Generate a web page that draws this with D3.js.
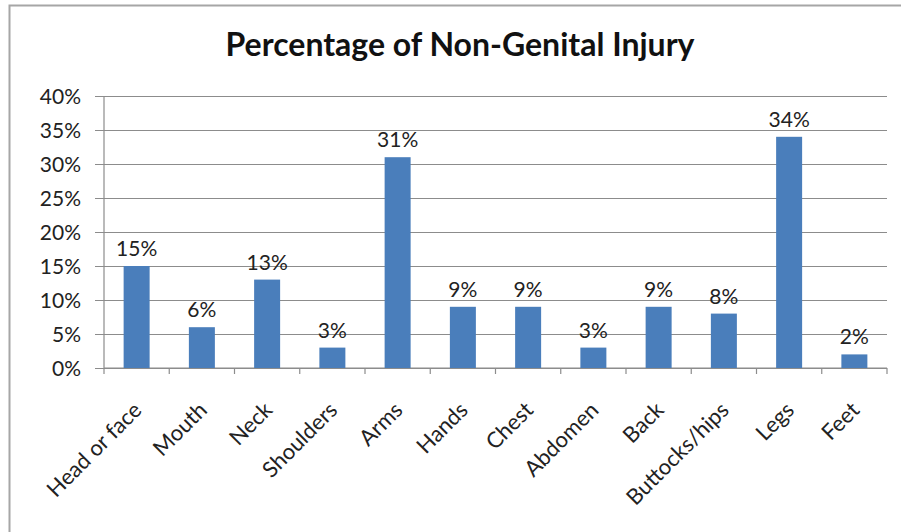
<!DOCTYPE html>
<html><head><meta charset="utf-8">
<script src="https://cdn.jsdelivr.net/npm/d3@7"></script>
<style>body{margin:0;background:#fff}svg{display:block}</style>
</head><body>
<svg id="c" width="901" height="532"></svg>
<script>
const categories = ["Head or face","Mouth","Neck","Shoulders","Arms","Hands","Chest","Abdomen","Back","Buttocks/hips","Legs","Feet"];
const values = [15,6,13,3,31,9,9,3,9,8,34,2];
const yTicks = [0,5,10,15,20,25,30,35,40];
const title = "Percentage of Non-Genital Injury";

const svg = d3.select("#c");
const font = "Lato, 'Open Sans', sans-serif";
const m = {l:104, r:887, t:96, b:368};

svg.append("rect").attr("x",9.5).attr("y",5.5).attr("width",910).attr("height",560)
  .attr("fill","#fff").attr("stroke","#a6a6a6").attr("stroke-width",2);

const y = d3.scaleLinear().domain([0,40]).range([m.b,m.t]);

// gridlines + y axis
const yAxis = d3.axisLeft(y).tickValues(yTicks).tickFormat(d=>d+"%").tickSize(-(m.r-m.l)).tickPadding(14);
const gy = svg.append("g").attr("transform",`translate(${m.l},0)`).call(yAxis);
gy.select(".domain").remove();
gy.selectAll(".tick line").attr("stroke","#8c8c8c").attr("stroke-width",1.2).attr("x1",-9);
gy.selectAll(".tick text").attr("font-family",font).attr("font-size",21).attr("fill","#222").attr("x",-23).attr("dy","0.36em");

// axis lines
svg.append("line").attr("x1",m.l).attr("x2",m.l).attr("y1",m.t).attr("y2",m.b).attr("stroke","#8c8c8c").attr("stroke-width",1.2);
svg.append("line").attr("x1",m.l).attr("x2",m.r).attr("y1",m.b).attr("y2",m.b).attr("stroke","#8c8c8c").attr("stroke-width",1.2);
const x = d3.scaleBand().domain(categories).range([m.l,m.r]).padding(0);
const bw = x.bandwidth();
const boundaries = categories.map(c=>x(c)).concat([m.r]);
svg.selectAll("line.xt").data(boundaries).enter().append("line").attr("class","xt")
  .attr("x1",d=>d).attr("x2",d=>d).attr("y1",m.b).attr("y2",m.b+6).attr("stroke","#8c8c8c").attr("stroke-width",1.2);

// bars
const barW = 26;
const cx = (d,i)=> x(categories[i]) + bw/2;
svg.selectAll("rect.bar").data(values).enter().append("rect").attr("class","bar")
  .attr("x",(d,i)=>cx(d,i)-barW/2).attr("width",barW)
  .attr("y",d=>y(d)).attr("height",d=>m.b-y(d)).attr("fill","#4a7ebb");

// value labels
svg.selectAll("text.val").data(values).enter().append("text").attr("class","val")
  .attr("x",(d,i)=>cx(d,i)).attr("y",d=>y(d)-10).attr("text-anchor","middle")
  .attr("font-family",font).attr("font-size",21).attr("fill","#222").text(d=>d+"%");

// x labels
svg.selectAll("text.xl").data(categories).enter().append("text").attr("class","xl")
  .attr("transform",(d,i)=>`translate(${cx(d,i)+1},${m.b+38}) rotate(-45)`)
  .attr("text-anchor","end").attr("dy","0.35em")
  .attr("font-family",font).attr("font-size",22).attr("fill","#222").text(d=>d);

// title
svg.append("text").attr("x",460).attr("y",56).attr("text-anchor","middle")
  .attr("font-family",font).attr("font-weight","bold").attr("font-size",32).attr("fill","#111").text(title);
</script>
</body></html>
